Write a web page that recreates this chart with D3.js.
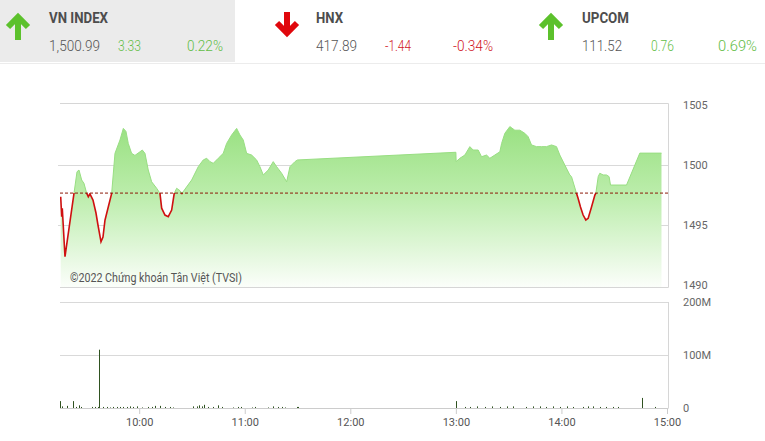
<!DOCTYPE html>
<html><head><meta charset="utf-8">
<script src="https://cdn.jsdelivr.net/npm/d3@7"></script>
<style>
html,body{margin:0;padding:0;background:#fff;}
svg{display:block;font-family:Roboto,"Noto Sans",sans-serif;}
</style></head>
<body><svg id="c" width="765" height="441"></svg>
<script>
// ---- header data ----
const indexNames = ["VN INDEX", "HNX", "UPCOM"];
const indexValues = ["1,500.99", "417.89", "111.52"];
const indexChanges = ["3.33", "-1.44", "0.76"];
const indexPercents = ["0.22%", "-0.34%", "0.69%"];
const indexUp = [true, false, true];

// ---- price series (VN-Index intraday) ----
const priceTimes = ["09:15:24","09:15:58","09:16:18","09:17:50","09:22:57","09:24:40","09:25:48","09:27:20","09:28:38","09:30:10",
"09:31:05","09:32:00","09:33:45","09:35:27","09:36:35","09:38:18","09:39:26","09:40:34","09:42:26","09:44:22",
"09:46:15","09:49:05","09:51:00","09:52:30","09:53:48","09:55:42","09:57:36","10:00:27","10:01:46","10:03:18",
"10:05:10","10:07:06","10:09:56","10:11:49","10:12:47","10:14:40","10:16:32","10:18:28","10:19:56","10:21:18",
"10:23:11","10:24:19","10:29:50","10:33:35","10:36:25","10:38:22","10:40:14","10:42:07","10:44:57","10:47:47",
"10:49:43","10:52:33","10:55:24","10:57:17","10:59:10","11:01:04","11:03:55","11:06:45","11:08:38","11:10:32",
"11:13:22","11:16:12","11:18:08","11:20:58","11:23:49","11:25:42","11:28:32","11:30:00",
"13:00:00","13:00:10","13:02:16","13:05:07","13:07:57","13:09:50","13:12:40","13:14:36","13:17:26","13:19:19",
"13:22:10","13:25:00","13:26:00","13:27:50","13:30:41","13:33:31","13:36:22","13:39:12","13:41:05","13:43:00",
"13:45:50","13:48:41","13:51:31","13:54:22","13:57:12","13:59:05","14:01:55","14:04:46","14:05:44","14:08:34",
"14:09:30","14:10:50","14:12:20","14:13:52","14:15:12","14:17:06","14:19:00","14:19:33","14:20:54","14:21:49",
"14:23:42","14:25:36","14:27:05","14:27:54","14:37:00","14:44:33","14:56:52"];
const priceValues = [1497.36,1495.69,1496.39,1492.36,1497.64,1499.44,1499.58,1498.75,1498.47,1497.64,
1497.36,1497.6,1497.08,1496.0,1495.0,1493.6,1494.0,1495.4,1496.5,1497.64,
1500.97,1502.08,1503.05,1502.8,1501.8,1500.97,1500.8,1501.1,1501.25,1500.97,
1499.58,1498.6,1498.06,1497.64,1496.4,1495.83,1495.7,1496.25,1497.64,1498.06,
1497.86,1497.64,1498.75,1499.86,1500.42,1500.56,1500.28,1500.14,1500.56,1500.97,
1501.8,1502.5,1503.05,1502.5,1502.08,1500.97,1500.83,1500.42,1499.86,1499.17,
1499.58,1500.28,1499.86,1499.31,1498.6,1499.86,1500.28,1500.42,
1501.06,1500.28,1500.56,1500.83,1501.53,1501.25,1501.25,1500.69,1500.83,1500.56,
1500.83,1501.1,1501.8,1502.64,1503.2,1502.9,1502.9,1502.64,1502.36,1501.67,
1501.53,1501.53,1501.53,1501.67,1501.53,1500.83,1500.0,1499.17,1499.03,1497.64,
1497.2,1496.5,1495.83,1495.42,1495.56,1496.5,1497.5,1497.64,1499.03,1499.31,
1499.17,1499.17,1499.03,1498.33,1498.33,1500.99,1500.99];
const referenceValue = 1497.66;

// ---- volume series (millions) ----
const volTimes = ["09:15:00","09:16:18","09:19:06","09:22:36","09:23:54","09:25:48","09:26:54","09:33:24","09:34:54","09:36:24",
"09:37:18","09:39:36","09:41:30","09:43:24","09:45:18","09:47:12","09:49:06","09:51:00","09:52:54","09:54:48",
"09:56:36","09:58:36","10:01:24","10:04:48","10:07:06","10:09:00","10:11:48","10:14:42","10:17:30","10:19:24",
"10:30:42","10:32:42","10:34:00","10:35:30","10:37:00","10:38:54","10:42:06","10:44:54","10:46:54","10:53:30",
"10:56:00","10:57:48","11:03:54","11:05:48","11:13:24","11:16:12","11:18:42","11:21:00","11:22:48","11:29:30","11:30:00",
"13:00:00","13:05:00","13:08:00","13:11:48","13:16:30","13:20:18","13:25:00","13:28:48","13:32:30","13:40:00",
"13:44:00","13:47:42","13:51:30","13:55:18","13:59:00","14:02:54","14:06:42","14:12:18","14:15:12","14:18:00",
"14:21:48","14:25:36","14:29:24","14:32:00","14:46:00","14:53:00"];
const volValues = [13,3,4,13,2,5,2,2,2,2,
110,2,2,1,2,2,2,2,2,3,
2,3,1,2,2,4,4,2,2,1,
3,3,5,3,6,2,2,5,2,1,
2,2,1,2,1,3,2,2,1,2,2,
13,2,2,3,2,3,2,3,3,2,
3,3,2,3,2,3,2,2,3,3,
2,2,2,2,19,2];

// ---- ticks ----
const priceTicks = [1490, 1495, 1500, 1505];
const priceGrid = [1495, 1500];
const volTicks = [0, 100, 200];
const timeTicks = ["10:00","11:00","12:00","13:00","14:00","15:00"];

// ---------------------------------------------------------
const svg = d3.select("#c");
const parseT = d3.timeParse("%H:%M:%S");
const parseHM = d3.timeParse("%H:%M");

const price = priceTimes.map((t,i)=>({t:parseT(t), v:priceValues[i]}));
const vols = volTimes.map((t,i)=>({t:parseT(t), v:volValues[i]}));

const x = d3.scaleTime().domain([parseHM("09:15"), parseHM("15:00")]).range([60, 667]);
const y = d3.scaleLinear().domain([1490, 1505]).range([285, 105]);
const yv = d3.scaleLinear().domain([0, 200]).range([408, 302]);

const plotL = 60, plotR = 668;
const priceTop = 103, priceBot = 287;

// ---- header ----
svg.append("rect").attr("x",0).attr("y",0).attr("width",235).attr("height",62).attr("fill","#ebebeb");
svg.append("line").attr("x1",0).attr("x2",765).attr("y1",63.5).attr("y2",63.5).attr("stroke","#ececec");

const blockX = [0, 267, 533];
const green = "#62bd45", red = "#d0141c";
const nameW = [59, 27, 47], valW = [51, 41, 40], chW = [23, 26, 23], pcW = [36, 40, 39];
const chX = [118, 385, 651], pcRight = [223, 493, 757];
indexNames.forEach((n,i)=>{
  const bx = blockX[i];
  const g = svg.append("g");
  const col = indexUp[i] ? "#5cc12c" : "#e0070c";
  const ax = bx + 18;
  if (indexUp[i]) {
    g.append("path").attr("d",`M${ax},40 V19 M${ax-10},27 L${ax},17 L${ax+10},27`)
      .attr("fill","none").attr("stroke",col).attr("stroke-width",6).attr("stroke-linejoin","miter");
  } else {
    const ay = 0;
    g.append("path").attr("d",`M${ax+2},12 V31 M${ax-8},23 L${ax+2},33 L${ax+12},23`)
      .attr("fill","none").attr("stroke",col).attr("stroke-width",6).attr("stroke-linejoin","miter");
  }
  const tx = bx + 49;
  g.append("text").attr("x",tx).attr("y",23).attr("font-size",14).attr("font-weight","bold")
    .attr("fill","#4d4d4d").attr("textLength",nameW[i]).attr("lengthAdjust","spacingAndGlyphs").text(n);
  g.append("text").attr("x",tx).attr("y",51).attr("font-size",14.5).attr("font-weight",300)
    .attr("fill","#555").attr("textLength",valW[i]).attr("lengthAdjust","spacingAndGlyphs").text(indexValues[i]);
  const cc = indexUp[i] ? green : red;
  g.append("text").attr("x",chX[i]).attr("y",51).attr("font-size",14.5).attr("font-weight",300)
    .attr("fill",cc).attr("textLength",chW[i]).attr("lengthAdjust","spacingAndGlyphs").text(indexChanges[i]);
  g.append("text").attr("x",pcRight[i]-pcW[i]).attr("y",51).attr("font-size",14.5).attr("font-weight",300)
    .attr("fill",cc).attr("textLength",pcW[i]).attr("lengthAdjust","spacingAndGlyphs").text(indexPercents[i]);
});

// ---- price chart ----
const defs = svg.append("defs");
const grad = defs.append("linearGradient").attr("id","gfill").attr("gradientUnits","userSpaceOnUse")
  .attr("x1",0).attr("x2",0).attr("y1",y(1505)).attr("y2",priceBot);
grad.append("stop").attr("offset","0%").attr("stop-color","#8fdd75");
grad.append("stop").attr("offset","50%").attr("stop-color","#bcedac");
grad.append("stop").attr("offset","100%").attr("stop-color","#fbfefa");

defs.append("clipPath").attr("id","above").append("rect")
  .attr("x",plotL).attr("y",priceTop).attr("width",plotR-plotL).attr("height",y(referenceValue)-priceTop);
defs.append("clipPath").attr("id","below").append("rect")
  .attr("x",plotL).attr("y",y(referenceValue)).attr("width",plotR-plotL).attr("height",priceBot-y(referenceValue));

// grid
svg.append("g").selectAll("line").data(priceGrid).join("line")
  .attr("x1",plotL-2).attr("x2",plotR).attr("y1",d=>Math.round(y(d))+0.5).attr("y2",d=>Math.round(y(d))+0.5)
  .attr("stroke","#d9d9d9");

const area = d3.area().x(d=>x(d.t)).y0(priceBot).y1(d=>y(d.v));
svg.append("path").datum(price).attr("d",area).attr("fill","url(#gfill)");

const line = d3.line().x(d=>x(d.t)).y(d=>y(d.v));
svg.append("path").datum(price).attr("d",line).attr("fill","none").attr("stroke","#98de82")
  .attr("stroke-width",1).attr("clip-path","url(#above)");
svg.append("path").datum(price).attr("d",line).attr("fill","none").attr("stroke","#cf1010")
  .attr("stroke-width",1.6).attr("clip-path","url(#below)");

// reference dashed
svg.append("line").attr("x1",plotL).attr("x2",plotR).attr("y1",y(referenceValue)).attr("y2",y(referenceValue))
  .attr("stroke","#8c1a0a").attr("stroke-width",1).attr("stroke-dasharray","3,2");

// frame
svg.append("path").attr("d",`M${plotL},${priceTop+0.5}H${plotR+0.5}V${priceBot+0.5}H${plotL}`)
  .attr("fill","none").attr("stroke","#d6d6d6");

// right axis labels
const yAxis = d3.axisRight(y).tickValues(priceTicks).tickSize(0).tickPadding(15).tickFormat(d3.format("d"));
const ya = svg.append("g").attr("transform",`translate(${plotR},0)`).call(yAxis);
ya.select(".domain").remove();
ya.selectAll("text").attr("font-size",11).attr("fill","#666").attr("font-family","Roboto, sans-serif");

// copyright
svg.append("text").attr("x",70).attr("y",282).attr("font-size",12).attr("fill","#555")
  .attr("textLength",172).attr("lengthAdjust","spacingAndGlyphs").text("©2022 Chứng khoán Tân Việt (TVSI)");

// ---- volume chart ----
svg.append("g").selectAll("line").data([100,200]).join("line")
  .attr("x1",plotL).attr("x2",plotR).attr("y1",d=>Math.round(yv(d))+0.5).attr("y2",d=>Math.round(yv(d))+0.5)
  .attr("stroke","#d9d9d9");
svg.append("line").attr("x1",plotR+0.5).attr("x2",plotR+0.5).attr("y1",yv(200)).attr("y2",yv(0)).attr("stroke","#d6d6d6");

svg.append("g").selectAll("line").data(vols).join("line")
  .attr("x1",d=>Math.round(x(d.t))+0.5).attr("x2",d=>Math.round(x(d.t))+0.5)
  .attr("y1",yv(0)).attr("y2",d=>yv(d.v)).attr("stroke","#2f5220").attr("stroke-width",1);

const vAxis = d3.axisRight(yv).tickValues(volTicks).tickSize(0).tickPadding(15)
  .tickFormat(d=>d===0?"0":d+"M");
const va = svg.append("g").attr("transform",`translate(${plotR},0)`).call(vAxis);
va.select(".domain").remove();
va.selectAll("text").attr("font-size",11).attr("fill","#666").attr("font-family","Roboto, sans-serif");

const xAxis = d3.axisBottom(x).tickValues(timeTicks.map(t=>parseHM(t))).tickSize(6).tickPadding(4)
  .tickFormat(d3.timeFormat("%H:%M"));
const xa = svg.append("g").attr("transform",`translate(0,${yv(0)})`).call(xAxis);
xa.select(".domain").attr("d",`M${plotL},0.5H${plotR+0.5}`).attr("stroke","#cccccc");
xa.selectAll(".tick line").attr("stroke","#cccccc");
xa.selectAll("text").attr("font-size",11).attr("fill","#555").attr("font-family","Roboto, sans-serif");
</script></body></html>
